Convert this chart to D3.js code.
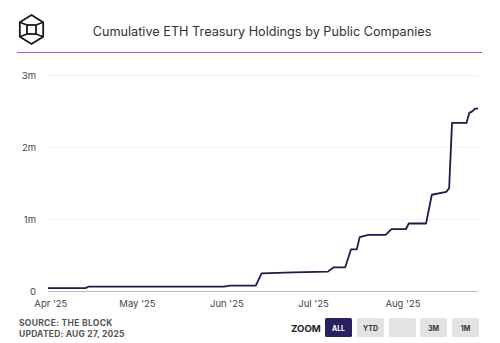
<!DOCTYPE html>
<html><head><meta charset="utf-8">
<script src="https://cdn.jsdelivr.net/npm/d3@7"></script>
<style>body{margin:0;background:#fff;}svg{display:block;font-family:Inter,"Noto Sans",sans-serif;}</style>
</head><body>
<script>
const dates = ["2025-03-31","2025-04-13","2025-04-14","2025-05-31","2025-06-02","2025-06-11","2025-06-13","2025-06-24","2025-07-06","2025-07-08","2025-07-12","2025-07-14","2025-07-16","2025-07-17","2025-07-20","2025-07-26","2025-07-28","2025-08-02","2025-08-03","2025-08-09","2025-08-11","2025-08-16","2025-08-17","2025-08-18","2025-08-23","2025-08-24","2025-08-25","2025-08-26","2025-08-27"];
const holdings = [40000,40000,60000,60000,75000,75000,246000,260000,270000,330000,330000,580000,580000,750000,780000,780000,860000,860000,940000,940000,1340000,1380000,1430000,2340000,2340000,2480000,2500000,2540000,2540000];
const yTicks = [0,1000000,2000000,3000000];
const yTickLabels = ["0","1m","2m","3m"];
const xTickDates = ["2025-04-01","2025-05-01","2025-06-01","2025-07-01","2025-08-01"];
const xTickLabels = ["Apr '25","May '25","Jun '25","Jul '25","Aug '25"];
const zoomButtons = ["ALL","YTD","","3M","1M"];

const W=500,H=343;
const svg=d3.select("body").append("svg").attr("width",W).attr("height",H);
const parse=d3.timeParse("%Y-%m-%d");
const data=dates.map((d,i)=>({date:parse(d),v:holdings[i]}));

// logo
const lg=svg.append("g").attr("transform","translate(31.5,29.5)").attr("fill","none").attr("stroke","#1a1a1a").attr("stroke-width",1.8);
const R=14.5;
const hex=d3.range(6).map(i=>{const a=-Math.PI/2+i*Math.PI/3;return [R*Math.cos(a)*0.93,R*Math.sin(a)];});
lg.append("path").attr("d","M"+hex.map(p=>p.join(",")).join("L")+"Z").attr("stroke-linejoin","round");
const s=4.5;
lg.append("rect").attr("x",-s).attr("y",-s).attr("width",2*s).attr("height",2*s);
[[hex[1],[s,-s]],[hex[5],[-s,-s]],[hex[2],[s,s]],[hex[4],[-s,s]]].forEach(([a,b])=>{
  lg.append("line").attr("x1",a[0]).attr("y1",a[1]).attr("x2",b[0]).attr("y2",b[1]);
});

svg.append("text").attr("x",262).attr("y",35.5).attr("text-anchor","middle").attr("font-size",12.7).attr("fill","#333").text("Cumulative ETH Treasury Holdings by Public Companies");
svg.append("line").attr("x1",17).attr("x2",482).attr("y1",52.5).attr("y2",52.5).attr("stroke","#a855d8").attr("stroke-width",1.2);

const x=d3.scaleTime().domain([parse("2025-03-31"),parse("2025-08-27")]).range([48,478]);
const y=d3.scaleLinear().domain([0,3000000]).range([291,75.5]);

const grid=svg.append("g");
yTicks.forEach((t,i)=>{
  if(i>0) grid.append("line").attr("x1",48).attr("x2",478).attr("y1",y(t)).attr("y2",y(t)).attr("stroke","#f2f2f2").attr("stroke-width",1);
  svg.append("text").attr("x",36).attr("y",y(t)+3.5).attr("text-anchor","end").attr("font-size",9.5).attr("fill","#444").text(yTickLabels[i]);
});
svg.append("line").attr("x1",48).attr("x2",478).attr("y1",y(0)+0.5).attr("y2",y(0)+0.5).attr("stroke","#bbb").attr("stroke-width",1.2);
xTickDates.forEach((d,i)=>{
  svg.append("text").attr("x",x(parse(d))).attr("y",307).attr("text-anchor","middle").attr("font-size",9.5).attr("fill","#444").text(xTickLabels[i]);
});

const line=d3.line().x(d=>x(d.date)).y(d=>y(d.v));
svg.append("path").datum(data).attr("d",line).attr("fill","none").attr("stroke","#1f1b4d").attr("stroke-width",1.8).attr("stroke-linejoin","round");

svg.append("text").attr("x",19).attr("y",326).attr("font-size",8.5).attr("font-weight","bold").attr("fill","#555").attr("letter-spacing",0.3).text("SOURCE: THE BLOCK");
svg.append("text").attr("x",19).attr("y",337).attr("font-size",8.5).attr("font-weight","bold").attr("fill","#555").attr("letter-spacing",0.2).text("UPDATED: AUG 27, 2025");

svg.append("text").attr("x",291).attr("y",332).attr("font-size",9.6).attr("font-weight","bold").attr("fill","#222").text("ZOOM");
const bx=[325,357,389,420,452];
zoomButtons.forEach((b,i)=>{
  svg.append("rect").attr("x",bx[i]).attr("y",318).attr("width",27).attr("height",19).attr("rx",1.5).attr("fill",i===0?"#28215e":"#e3e3e3");
  svg.append("text").attr("x",bx[i]+13.5).attr("y",330.5).attr("text-anchor","middle").attr("font-size",7).attr("font-weight","bold").attr("fill",i===0?"#fff":"#333").text(b);
});
</script>
</body></html>
